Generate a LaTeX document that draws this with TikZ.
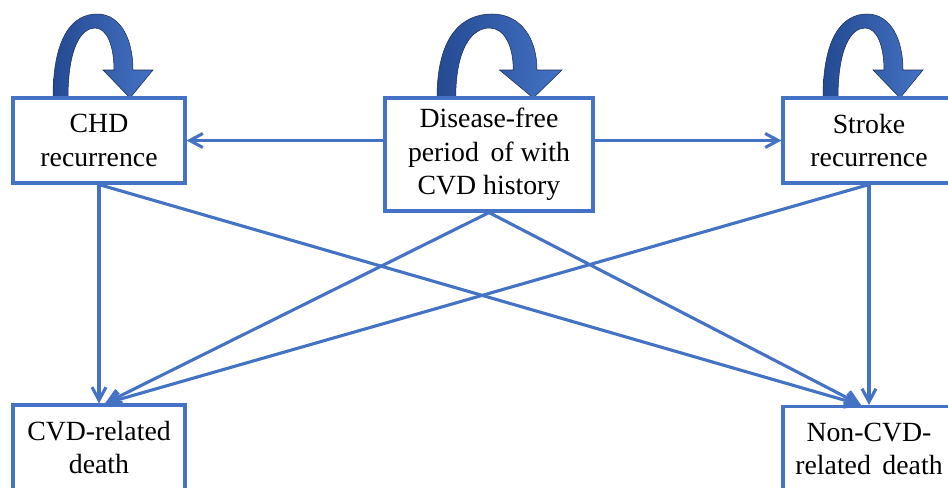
\documentclass[tikz,border=0pt]{standalone}
\usepackage{fontspec}
\setmainfont{Liberation Serif}
\usetikzlibrary{positioning,arrows.meta,calc}
\definecolor{lblue}{RGB}{68,114,196}
\definecolor{ldark}{RGB}{36,74,146}
\definecolor{ledge}{RGB}{28,44,84}
\newcommand{\selfarrow}[3]{\begin{scope}[shift={(#1,#2)},xscale=#3]
  \draw[ledge,line width=0.3pt,left color=ldark,right color=lblue]
    (0,0) .. controls (0,-62) and (20,-84) .. (44,-84)
    .. controls (68,-84) and (80,-58) .. (80,-28)
    -- (100,-28) -- (77,0) -- (50,-28) -- (61,-28)
    .. controls (61,-52) and (54,-70) .. (42,-70)
    .. controls (28,-70) and (15,-50) .. (15,0) -- cycle;
\end{scope}}

\begin{document}
\begin{tikzpicture}[x=0.2mm,y=-0.2mm,font=\fontsize{15.8}{19}\selectfont,
    box/.style={draw=lblue,line width=0.62mm,fill=white,align=center,
      minimum width=34.4mm,minimum height=17mm,inner sep=0pt},
    link/.style={lblue,line width=0.62mm,-{Straight Barb[length=2.6mm,width=2.8mm]}}]
    \path[use as bounding box,clip] (0,0) rectangle (948,487);
    \selfarrow{53}{98}{1}
    \selfarrow{437}{98}{1.25}
    \selfarrow{823}{98}{1}
    \node[box] (chd) at (99,140.5) {CHD\\recurrence};
    \node[box,minimum width=41.6mm,minimum height=22.6mm] (dfree) at (489,154.5) {Disease-free\\period\ \,of with\\CVD history};
    \node[box] (stroke) at (869,140.5) {Stroke\\recurrence};
    \node[box] (cvdd) at (99,447.5) {CVD-related\\death};
    \node[box] (ncvdd) at (869,449) {Non-CVD-\\related\ \,death};
    \draw[link] (chd.east -| dfree.west) -- (chd.east);
    \draw[link] (stroke.west -| dfree.east) -- (stroke.west);
    \draw[link] (chd.south) -- (cvdd.north);
    \draw[link] (chd.south) -- ($(ncvdd.north)+(-8,0)$);
    \draw[link] (dfree.south) -- ($(cvdd.north)+(6,0)$);
    \draw[link] (dfree.south) -- ($(ncvdd.north)+(-8,0)$);
    \draw[link] (stroke.south) -- (ncvdd.north);
    \draw[link] (stroke.south) -- ($(cvdd.north)+(6,0)$);
  \end{tikzpicture}
\end{document}
